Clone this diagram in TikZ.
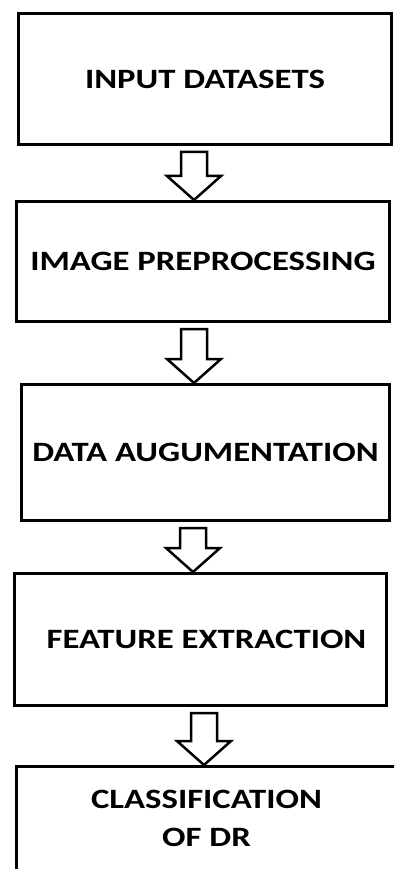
\documentclass[tikz,border=0pt]{standalone}
\usepackage{fontspec}
\newfontfamily\stagefont{Carlito}[FakeStretch=1.24]
\usetikzlibrary{positioning, calc}
\tikzset{
stage/.style={draw, rectangle, line width=3pt, align=center, font=\stagefont\bfseries\fontsize{28}{38}\selectfont}, % the boxes of the pipeline
flowarrow/.style={line width=2.5pt, line join=miter,
  to path={let \p1=(\tikztostart), \p2=(\tikztotarget) in
    (\x2-13pt,\y1-6pt) -- (\x2+13pt,\y1-6pt) -- (\x2+13pt,\y2+24pt) -- (\x2+27pt,\y2+24pt)
    -- (\x2,\y2) -- (\x2-27pt,\y2+24pt) -- (\x2-13pt,\y2+24pt) -- cycle}}, % hollow block arrow
}
\begin{document}
\begin{tikzpicture}[x=1pt, y=-1pt]
                \useasboundingbox (0,0) rectangle (394,869);
                \clip (0,0) rectangle (394,869);
                \node[stage, minimum width=373pt, minimum height=131pt] (in) at (205,79) {INPUT DATASETS};
                \node[stage, minimum width=373pt, minimum height=120pt, below=54pt of in, xshift=-2pt] (pre) {IMAGE PREPROCESSING};
                \node[stage, minimum width=368pt, minimum height=136pt, below=60pt of pre, xshift=2.5pt] (aug) {DATA AUGUMENTATION};
                \node[stage, minimum width=372pt, minimum height=132pt, below=50pt of aug, xshift=-5pt] (feat) {\hspace{12pt}FEATURE EXTRACTION};
                \node[stage, minimum width=380pt, minimum height=104pt, below=58pt of feat, xshift=6pt] (cls) {CLASSIFICATION\\OF DR};
                \draw[flowarrow]
                    ([xshift=-11pt]in.south) to ([xshift=-9pt]pre.north)
                    ([xshift=-9pt]pre.south) to ([xshift=-11.5pt]aug.north)
                    ([xshift=-12.5pt]aug.south) to ([xshift=-7.5pt]feat.north)
                    ([xshift=-7.5pt]feat.south) to ([xshift=-2.5pt]cls.north)
                    ;
                \end{tikzpicture}
\end{document}
